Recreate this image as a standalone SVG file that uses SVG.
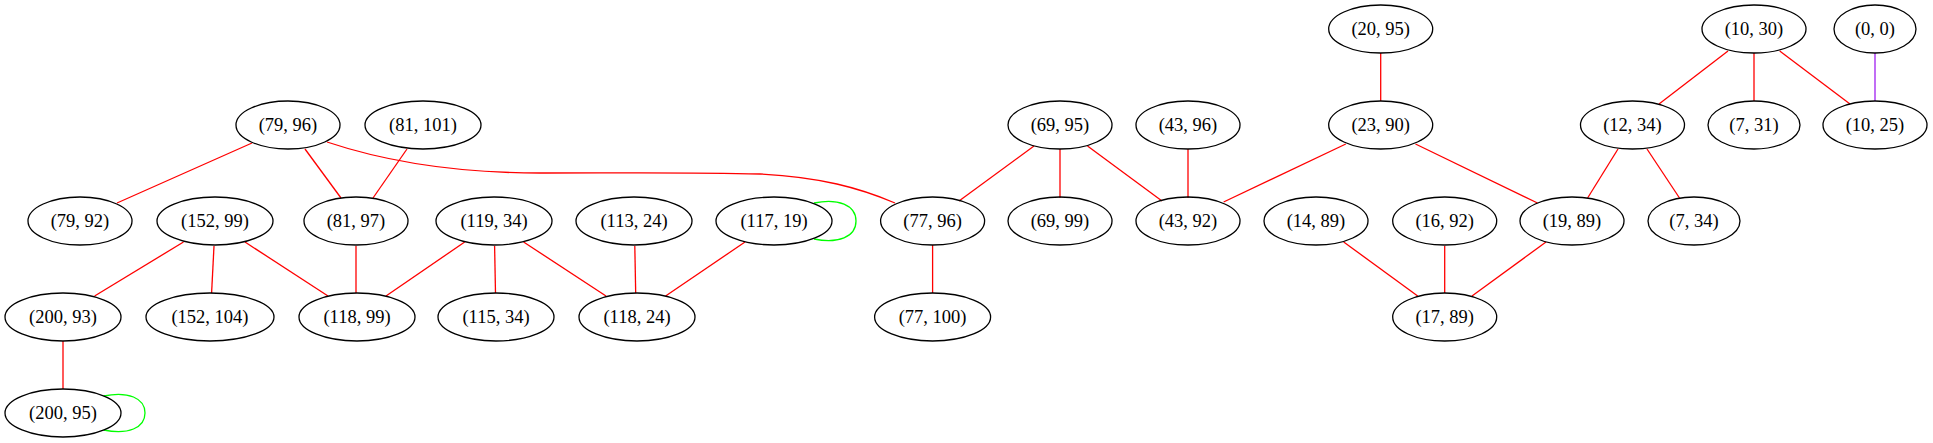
<svg xmlns="http://www.w3.org/2000/svg" width="1933" height="443" viewBox="0 0 1933 443">
<style>
.n ellipse{fill:none;stroke:#000;stroke-width:1.3}
.n text{font-family:"Liberation Serif","Times New Roman",serif;font-size:18.5px;text-anchor:middle;fill:#000}
.e path{fill:none;stroke:#ff0000;stroke-width:1.3}
.e path.g{stroke:#00ff00}
.e path.p{stroke:#a020f0}
</style>
<rect width="1933" height="443" fill="#fff"/>
<g id="edges" class="e">
<path d="M252,143L117,203"/>
<path d="M305,149L341,198"/>
<path d="M327,142C390,163 460,173 540,173C620,173 690,172 760,174C820,177 860,188 895,203"/>
<path d="M407,149L373,198"/>
<path d="M183.5,242L94.6,296"/>
<path d="M214,246L211.6,293"/>
<path d="M245,242L328,296"/>
<path d="M356,246L356,293"/>
<path d="M464.7,242L386,296"/>
<path d="M494.6,246L495.5,293"/>
<path d="M523.6,242L606,296"/>
<path d="M634.8,246L635.7,293"/>
<path d="M745,242L665.6,296"/>
<path d="M63,341L63,389"/>
<path class="g" d="M103.6,396C128,391 145,398 145,413C145,428 128,435 103.6,430"/>
<path class="g" d="M814,203C838,198 856,205 856,221C856,237 838,244 814,239"/>
<path d="M932.6,245L932.6,293"/>
<path d="M1034,146L959,201"/>
<path d="M1060,149L1060,198"/>
<path d="M1087.5,146L1162,201"/>
<path d="M1188,149L1188,198"/>
<path d="M1345.8,144L1223.6,202"/>
<path d="M1415.5,144L1537.5,203"/>
<path d="M1380.7,53L1380.7,101"/>
<path d="M1728,51L1659,104"/>
<path d="M1754,53L1754,101"/>
<path d="M1779.7,51L1850,104"/>
<path class="p" d="M1875,53L1875,101"/>
<path d="M1618,149L1587.6,198"/>
<path d="M1647,149L1679.5,198"/>
<path d="M1343.7,242L1417.7,296"/>
<path d="M1444.7,246L1444.7,293"/>
<path d="M1546,242L1472,296"/>
</g>
<g id="n79_96" class="n"><ellipse cx="288" cy="125" rx="52" ry="24"/><text x="288" y="131">(79, 96)</text></g>
<g id="n81_101" class="n"><ellipse cx="423" cy="125" rx="58" ry="24"/><text x="423" y="131">(81, 101)</text></g>
<g id="n79_92" class="n"><ellipse cx="80" cy="221" rx="52" ry="24"/><text x="80" y="227">(79, 92)</text></g>
<g id="n152_99" class="n"><ellipse cx="215" cy="221" rx="58" ry="24"/><text x="215" y="227">(152, 99)</text></g>
<g id="n81_97" class="n"><ellipse cx="356" cy="221" rx="52" ry="24"/><text x="356" y="227">(81, 97)</text></g>
<g id="n119_34" class="n"><ellipse cx="494" cy="221" rx="58" ry="24"/><text x="494" y="227">(119, 34)</text></g>
<g id="n113_24" class="n"><ellipse cx="634" cy="221" rx="58" ry="24"/><text x="634" y="227">(113, 24)</text></g>
<g id="n117_19" class="n"><ellipse cx="774" cy="221" rx="58" ry="24"/><text x="774" y="227">(117, 19)</text></g>
<g id="n77_96" class="n"><ellipse cx="932.6" cy="221" rx="52" ry="24"/><text x="932.6" y="227">(77, 96)</text></g>
<g id="n69_95" class="n"><ellipse cx="1060" cy="125" rx="52" ry="24"/><text x="1060" y="131">(69, 95)</text></g>
<g id="n43_96" class="n"><ellipse cx="1188" cy="125" rx="52" ry="24"/><text x="1188" y="131">(43, 96)</text></g>
<g id="n69_99" class="n"><ellipse cx="1060" cy="221" rx="52" ry="24"/><text x="1060" y="227">(69, 99)</text></g>
<g id="n43_92" class="n"><ellipse cx="1188" cy="221" rx="52" ry="24"/><text x="1188" y="227">(43, 92)</text></g>
<g id="n200_93" class="n"><ellipse cx="63" cy="317" rx="58" ry="24"/><text x="63" y="323">(200, 93)</text></g>
<g id="n152_104" class="n"><ellipse cx="210" cy="317" rx="64" ry="24"/><text x="210" y="323">(152, 104)</text></g>
<g id="n118_99" class="n"><ellipse cx="357" cy="317" rx="58" ry="24"/><text x="357" y="323">(118, 99)</text></g>
<g id="n115_34" class="n"><ellipse cx="496" cy="317" rx="58" ry="24"/><text x="496" y="323">(115, 34)</text></g>
<g id="n118_24" class="n"><ellipse cx="637" cy="317" rx="58" ry="24"/><text x="637" y="323">(118, 24)</text></g>
<g id="n77_100" class="n"><ellipse cx="932.6" cy="317" rx="58" ry="24"/><text x="932.6" y="323">(77, 100)</text></g>
<g id="n200_95" class="n"><ellipse cx="63" cy="413" rx="58" ry="24"/><text x="63" y="419">(200, 95)</text></g>
<g id="n20_95" class="n"><ellipse cx="1380.7" cy="29" rx="52" ry="24"/><text x="1380.7" y="35">(20, 95)</text></g>
<g id="n23_90" class="n"><ellipse cx="1380.7" cy="125" rx="52" ry="24"/><text x="1380.7" y="131">(23, 90)</text></g>
<g id="n10_30" class="n"><ellipse cx="1754" cy="29" rx="52" ry="24"/><text x="1754" y="35">(10, 30)</text></g>
<g id="n0_0" class="n"><ellipse cx="1875" cy="29" rx="41" ry="24"/><text x="1875" y="35">(0, 0)</text></g>
<g id="n12_34" class="n"><ellipse cx="1632.5" cy="125" rx="52" ry="24"/><text x="1632.5" y="131">(12, 34)</text></g>
<g id="n7_31" class="n"><ellipse cx="1754" cy="125" rx="46" ry="24"/><text x="1754" y="131">(7, 31)</text></g>
<g id="n10_25" class="n"><ellipse cx="1875" cy="125" rx="52" ry="24"/><text x="1875" y="131">(10, 25)</text></g>
<g id="n14_89" class="n"><ellipse cx="1316" cy="221" rx="52" ry="24"/><text x="1316" y="227">(14, 89)</text></g>
<g id="n16_92" class="n"><ellipse cx="1444.7" cy="221" rx="52" ry="24"/><text x="1444.7" y="227">(16, 92)</text></g>
<g id="n19_89" class="n"><ellipse cx="1572" cy="221" rx="52" ry="24"/><text x="1572" y="227">(19, 89)</text></g>
<g id="n7_34" class="n"><ellipse cx="1694" cy="221" rx="46" ry="24"/><text x="1694" y="227">(7, 34)</text></g>
<g id="n17_89" class="n"><ellipse cx="1444.7" cy="317" rx="52" ry="24"/><text x="1444.7" y="323">(17, 89)</text></g>
</svg>
